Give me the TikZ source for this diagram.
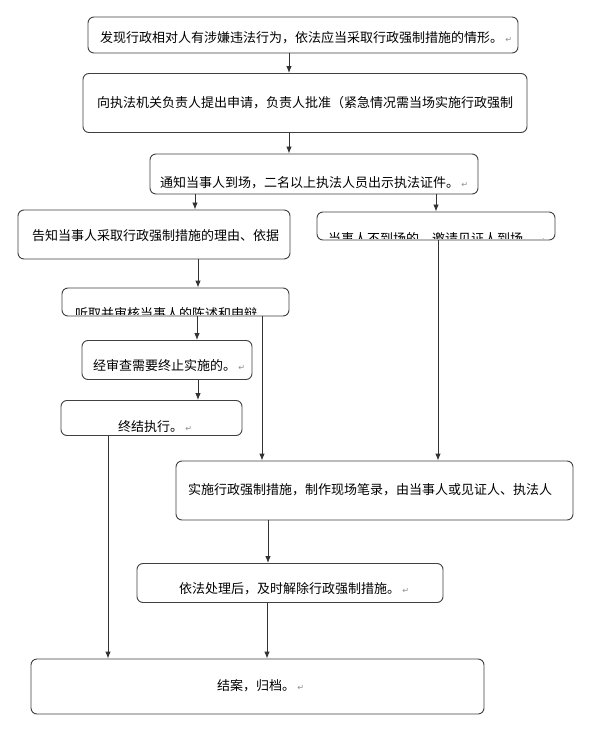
\documentclass[tikz,border=0pt]{standalone}
\usepackage{fontspec}
\setmainfont{Noto Sans CJK SC}
\newfontfamily\symfont{DejaVu Sans}
\usetikzlibrary{arrows.meta}
\tikzset{
  box/.style={draw=black!75, line width=0.9pt, rounded corners=6pt, fill=white},
  txt/.style={anchor=west, inner sep=0pt, font=\fontsize{13}{13}\selectfont, text=black},
  arr/.style={draw=black!80, line width=0.9pt, -{Latex[length=7pt,width=5.5pt]}},
}
\newcommand{\pmark}{\,{\symfont\fontsize{8}{8}\selectfont\color{black!45}↵}}
\begin{document}
\begin{tikzpicture}[x=1pt,y=-1pt]
\useasboundingbox[fill=white] (0,0) rectangle (600,735);
% boxes
\node[box, minimum width=430pt, minimum height=36pt] (b1) at (303,35) {};
\node[box, minimum width=444pt, minimum height=59pt] (b2) at (305,103) {};
\node[box, minimum width=328pt, minimum height=40pt] (b3) at (314,174) {};
\node[box, minimum width=272pt, minimum height=49pt] (b4) at (154,234.5) {};
\node[box, minimum width=238pt, minimum height=28pt] (b5) at (436,226) {};
\node[box, minimum width=227pt, minimum height=28pt] (b6) at (175.5,302) {};
\node[box, minimum width=170pt, minimum height=39pt] (b7) at (167,360) {};
\node[box, minimum width=181pt, minimum height=35pt] (b8) at (151.5,418) {};
\node[box, minimum width=397pt, minimum height=59pt] (b9) at (374.5,490.5) {};
\node[box, minimum width=306pt, minimum height=39pt] (b10) at (290,583) {};
\node[box, minimum width=453pt, minimum height=55pt] (b11) at (257.5,686.5) {};
% texts
\node[txt] (t1) at (100,38) {发现行政相对人有涉嫌违法行为，依法应当采取行政强制措施的情形。\pmark};
\node[txt] (t2) at (97,103) {向执法机关负责人提出申请，负责人批准（紧急情况需当场实施行政强制};
\node[txt] (t3) at (160,183) {通知当事人到场，二名以上执法人员出示执法证件。\pmark};
\node[txt] (t4) at (32,236) {告知当事人采取行政强制措施的理由、依据};
\begin{scope}
  \clip (b5.north west) rectangle ([yshift=2pt]b5.south east);
  \node[txt] (t5) at (328,239) {当事人不到场的，邀请见证人到场。\pmark};
\end{scope}
\begin{scope}
  \clip (b6.north west) rectangle ([yshift=2pt]b6.south east);
  \node[txt] (t6) at (75,314) {听取并审核当事人的陈述和申辩};
\end{scope}
\node[txt] (t7) at (93,366) {经审查需要终止实施的。\pmark};
\node[txt] (t8) at (118,427) {终结执行。\pmark};
\node[txt] (t9) at (188,490) {实施行政强制措施，制作现场笔录，由当事人或见证人、执法人};
\node[txt] (t10) at (179,589) {依法处理后，及时解除行政强制措施。\pmark};
\node[txt] (t11) at (217,686) {结案，归档。\pmark};
% columns
\coordinate (c289) at (289,0);
\coordinate (c195) at (195,0);
\coordinate (c436) at (436,0);
\coordinate (c438) at (438,0);
\coordinate (c198) at (198,0);
\coordinate (c197) at (197,0);
\coordinate (c262) at (262,0);
\coordinate (c108) at (108,0);
\coordinate (c268) at (268,0);
\coordinate (c267) at (267,0);
% connectors
\draw[arr] (b1.south -| c289) -- (b2.north -| c289);
\draw[arr] (b2.south -| c289) -- (b3.north -| c289);
\draw[arr] (b3.south -| c195) -- (b4.north -| c195);
\draw[arr] (b3.south -| c436) -- (b5.north -| c436);
\draw[arr] (b4.south -| c198) -- (b6.north -| c198);
\draw[arr] (b6.south -| c197) -- (b7.north -| c197);
\draw[arr] (b7.south -| c198) -- (b8.north -| c198);
\draw[arr] (b6.south -| c262) -- (b9.north -| c262);
\draw[arr] (b5.south -| c438) -- (b9.north -| c438);
\draw[arr] (b8.south -| c108) -- (b11.north -| c108);
\draw[arr] (b9.south -| c268) -- (b10.north -| c268);
\draw[arr] (b10.south -| c267) -- (b11.north -| c267);
\end{tikzpicture}
\end{document}
